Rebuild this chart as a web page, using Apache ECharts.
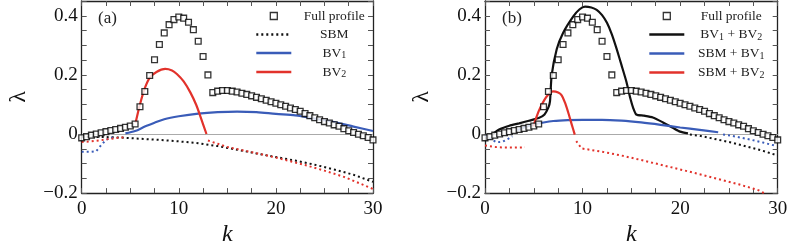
<!DOCTYPE html>
<html><head><meta charset="utf-8">
<script src="https://cdn.jsdelivr.net/npm/echarts@6/dist/echarts.min.js"></script>
<style>html,body{margin:0;padding:0;background:#fff}#c{width:793px;height:252px}</style>
</head><body><div id="c"></div>
<script>
// ---------- data (k, lambda) ----------
const xTicksLabels = [0, 10, 20, 30];
const yTicksLabels = [-0.2, 0, 0.2, 0.4];

const fullK = [0,0.5,1,1.5,2,2.5,3,3.5,4,4.5,5,5.5,6,6.5,7,7.5,8,8.5,9,9.5,10,10.5,11,11.5,12,12.5,13,13.5,14,14.5,15,15.5,16,16.5,17,17.5,18,18.5,19,19.5,20,20.5,21,21.5,22,22.5,23,23.5,24,24.5,25,25.5,26,26.5,27,27.5,28,28.5,29,29.5,30];
const fullLambda = [-0.013,-0.009,-0.004,0.0,0.004,0.008,0.012,0.015,0.019,0.023,0.027,0.034,0.092,0.144,0.198,0.251,0.303,0.342,0.370,0.387,0.396,0.392,0.378,0.353,0.314,0.262,0.200,0.140,0.145,0.147,0.147,0.145,0.142,0.138,0.134,0.129,0.124,0.119,0.114,0.109,0.104,0.099,0.094,0.088,0.083,0.077,0.069,0.062,0.055,0.048,0.042,0.037,0.031,0.026,0.018,0.011,0.005,-0.001,-0.006,-0.012,-0.020];

// panel (a)
const sbmA = [[0,-0.009],[2,-0.010],[4,-0.012],[6,-0.016],[8,-0.020],[10,-0.025],[12,-0.031],[14,-0.041],[16,-0.053],[18,-0.066],[20,-0.078],[22,-0.090],[24,-0.104],[26,-0.120],[28,-0.138],[30,-0.162]];
const bv1DotA = [[0,-0.060],[0.5,-0.060],[1,-0.060],[1.5,-0.058],[2,-0.038],[2.5,-0.020],[3,-0.013],[3.5,-0.011]];
const bv1SolidA = [[4.5,0.002],[5.5,0.010],[6.5,0.025],[7.5,0.038],[8.5,0.050],[10,0.060],[12,0.069],[14,0.074],[16,0.076],[18,0.074],[20,0.068],[22,0.063],[24,0.052],[26,0.040],[28,0.025],[30,0.010]];
const bv2DotA1 = [[0,-0.027],[1,-0.025],[2,-0.021],[3,-0.016],[4,-0.012],[4.6,-0.011]];
const bv2SolidA = [[5.55,0.038],[6.0,0.100],[6.5,0.155],[7.0,0.190],[7.7,0.210],[8.6,0.220],[9.3,0.215],[9.8,0.203],[10.5,0.178],[11.2,0.140],[11.8,0.098],[12.3,0.052],[12.85,0.000]];
const bv2DotA2 = [[13,-0.022],[14,-0.033],[15,-0.044],[17,-0.058],[19,-0.072],[21,-0.088],[23,-0.105],[25,-0.124],[27,-0.145],[29,-0.172],[30,-0.186]];

// panel (b)
const bv12SolidB = [[0.8,0.000],[1.5,0.016],[2.5,0.028],[3.5,0.036],[4.5,0.045],[5.5,0.054],[6.1,0.066],[6.5,0.090],[6.66,0.110],[6.83,0.198],[7.35,0.287],[8.0,0.342],[9.05,0.398],[9.7,0.422],[10.25,0.431],[10.9,0.428],[11.45,0.420],[12.0,0.402],[12.5,0.376],[13.0,0.337],[13.5,0.287],[14.0,0.232],[14.5,0.176],[14.9,0.120],[15.2,0.087],[15.5,0.066],[16.3,0.062],[17.2,0.056],[18.2,0.040],[19.3,0.020],[20.0,0.008],[20.8,0.002]];
const bv12DotB = [[21,-0.002],[22,-0.006],[23,-0.013],[24,-0.020],[25.4,-0.030],[27,-0.044],[28.5,-0.057],[30,-0.073]];
const sbmBv1Dot1B = [[0,-0.005],[0.5,-0.015],[1.2,-0.028],[1.8,-0.026],[2.3,-0.018],[2.8,-0.008]];
const sbmBv1SolidB = [[3.2,0.012],[4,0.022],[5,0.032],[6,0.039],[7,0.044],[8.5,0.047],[10,0.048],[12,0.048],[14,0.045],[16,0.039],[18,0.031],[20,0.022],[22,0.014],[23.9,0.006]];
const sbmBv1Dot2B = [[24.4,-0.002],[25.1,-0.005],[26,-0.011],[27.2,-0.019],[28.5,-0.029],[29.8,-0.040]];
const sbmBv2Dot1B = [[0,-0.039],[1,-0.044],[2,-0.046],[3,-0.046],[4.1,-0.045]];
const sbmBv2SolidB = [[4.95,0.026],[5.3,0.060],[5.64,0.087],[6.3,0.126],[7.0,0.144],[7.5,0.140],[7.86,0.131],[8.2,0.106],[8.5,0.076],[8.9,0.031],[9.2,-0.002]];
const sbmBv2Dot2B = [[9.35,-0.024],[9.9,-0.049],[10.5,-0.052],[12,-0.060],[14,-0.073],[16,-0.088],[18,-0.104],[20,-0.120],[22,-0.136],[24,-0.153],[26,-0.170],[28,-0.190],[28.6,-0.200]];

// ---------- styling ----------
const BLUE = '#3a5cb8', RED = '#e2322b', BLACK = '#111';
const SERIF = '"Liberation Serif", "DejaVu Serif", serif';
const fullData = fullK.map((k, i) => [k, fullLambda[i]]);

function solid(name, data, color, xi, opts) {
  return Object.assign({ name, type: 'line', data, xAxisIndex: xi, yAxisIndex: xi, symbol: 'none', smooth: 0.3,
    lineStyle: { color, width: 2.2 }, itemStyle: { color }, silent: true, z: 3 }, opts || {});
}
function dotted(name, data, color, xi) {
  return { name, type: 'line', data, xAxisIndex: xi, yAxisIndex: xi, symbol: 'none',
    lineStyle: { color, width: 2, type: [2, 3], cap: 'butt' }, itemStyle: { color }, silent: true, z: 3 };
}
function zeroLine(xi) {
  return { name: 'zero' + xi, type: 'line', data: [], xAxisIndex: xi, yAxisIndex: xi, silent: true,
    markLine: { silent: true, symbol: 'none', z: 1, label: { show: false }, animation: false,
      lineStyle: { color: '#aaa', width: 1, type: 'solid' }, data: [{ yAxis: 0 }] } };
}
function scatter(xi) {
  return { name: 'Full profile', type: 'scatter', data: fullData, xAxisIndex: xi, yAxisIndex: xi,
    symbol: 'rect', symbolSize: 5.8, itemStyle: { color: '#fff', borderColor: '#000', borderWidth: 1.3 }, silent: true, z: 5 };
}

const yFmt = v => {
  const r = Math.round(v * 100) / 100;
  const ok = yTicksLabels.some(t => Math.abs(t - r) < 1e-6);
  if (!ok) return '';
  if (r === 0) return '0';
  return r < 0 ? '\u2212' + (-r).toFixed(1) : r.toFixed(1);
};
const xFmt = v => xTicksLabels.some(t => Math.abs(t - v) < 1e-6) ? String(v) : '';

const axisLine = { lineStyle: { color: '#222', width: 1.3 } };
function xAxes(gi) {
  return [
    { gridIndex: gi, type: 'value', position: 'bottom', min: 0, max: 30, interval: 2.5,
      axisLine: Object.assign({ onZero: false }, axisLine), splitLine: { show: false },
      axisTick: { inside: true, length: 5, lineStyle: { color: '#555' } },
      axisLabel: { formatter: xFmt, fontFamily: SERIF, fontSize: 19, color: '#111', margin: 6 },
      name: 'k', nameLocation: 'middle', nameGap: 27,
      nameTextStyle: { fontFamily: SERIF, fontStyle: 'italic', fontSize: 24, color: '#111' } },
    { gridIndex: gi, type: 'value', position: 'top', min: 0, max: 30, interval: 2.5,
      axisLine: Object.assign({ onZero: false }, axisLine), splitLine: { show: false },
      axisTick: { inside: true, length: 5, lineStyle: { color: '#555' } }, axisLabel: { show: false } }
  ];
}
function yAxes(gi) {
  return [
    { gridIndex: gi, type: 'value', position: 'left', min: -0.2, max: 0.45, interval: 0.05,
      axisLine: Object.assign({ onZero: false }, axisLine), splitLine: { show: false },
      axisTick: { inside: true, length: 5, lineStyle: { color: '#555' } },
      axisLabel: { formatter: yFmt, fontFamily: SERIF, fontSize: 19, color: '#111', margin: 4 },
      name: '\u03bb', nameLocation: 'middle', nameGap: 51, nameRotate: 90,
      nameTextStyle: { fontFamily: SERIF, fontSize: 24, color: '#111' } },
    { gridIndex: gi, type: 'value', position: 'right', min: -0.2, max: 0.45, interval: 0.05,
      axisLine: Object.assign({ onZero: false }, axisLine), splitLine: { show: false },
      axisTick: { inside: true, length: 5, lineStyle: { color: '#555' } }, axisLabel: { show: false } }
  ];
}

const legendFmt = name => name.split(/(\d)/).filter(s => s !== '').map(s => /^\d$/.test(s) ? '{s|' + s + '}' : '{t|' + s + '}').join('');
const legendRich = {
  t: { fontFamily: SERIF, fontSize: 13.5, align: 'center', lineHeight: 15, color: '#222' },
  s: { fontFamily: SERIF, fontSize: 10, align: 'center', lineHeight: 9, verticalAlign: 'bottom', color: '#222' }
};
const squareIcon = { name: 'Full profile', icon: 'path://M0,0H10V10H0Z', itemStyle: { color: '#fff', borderColor: '#000', borderWidth: 1.3 } };
const lineItem = name => ({ name, itemStyle: { color: 'rgba(0,0,0,0)', borderColor: 'rgba(0,0,0,0)', borderWidth: 0 } });
function legend(left, width, names) {
  return { left, top: 4, orient: 'vertical', itemWidth: 35, itemHeight: 7, itemGap: 4.5, selectedMode: false,
    data: [squareIcon].concat(names.map(lineItem)), formatter: legendFmt,
    lineStyle: { width: 2.6 },
    textStyle: { width, rich: legendRich } };
}

const option = {
  animation: false,
  backgroundColor: '#fff',
  grid: [
    { left: 81.7, top: 1, width: 291.3, height: 195 },
    { left: 485, top: 1, width: 292.7, height: 195 }
  ],
  xAxis: xAxes(0).concat(xAxes(1)),
  yAxis: yAxes(0).concat(yAxes(1)),
  legend: [
    legend(250, 76, ['SBM', 'BV1', 'BV2']),
    legend(643, 84, ['BV1 + BV2', 'SBM + BV1', 'SBM + BV2'])
  ],
  graphic: [
    { type: 'text', left: 98, top: 10, style: { text: '(a)', font: '17px ' + SERIF, fill: '#222' } },
    { type: 'text', left: 502, top: 10, style: { text: '(b)', font: '17px ' + SERIF, fill: '#222' } }
  ],
  series: [
    zeroLine(0),
    dotted('SBM', sbmA, BLACK, 0),
    solid('BV1', bv1SolidA, BLUE, 0),
    dotted('BV1 dotted', bv1DotA, BLUE, 0),
    solid('BV2', bv2SolidA, RED, 0),
    dotted('BV2 dotted a', bv2DotA1, RED, 0),
    dotted('BV2 dotted b', bv2DotA2, RED, 0),
    scatter(0),
    zeroLine(2),
    solid('BV1 + BV2', bv12SolidB, BLACK, 2, { smooth: 0.2 }),
    dotted('BV1 + BV2 dotted', bv12DotB, BLACK, 2),
    solid('SBM + BV1', sbmBv1SolidB, BLUE, 2),
    dotted('SBM + BV1 dotted a', sbmBv1Dot1B, BLUE, 2),
    dotted('SBM + BV1 dotted b', sbmBv1Dot2B, BLUE, 2),
    solid('SBM + BV2', sbmBv2SolidB, RED, 2),
    dotted('SBM + BV2 dotted a', sbmBv2Dot1B, RED, 2),
    dotted('SBM + BV2 dotted b', sbmBv2Dot2B, RED, 2),
    scatter(2)
  ]
};
const chart = echarts.init(document.getElementById('c'), null, { renderer: 'canvas' });
chart.setOption(option);
</script></body></html>
